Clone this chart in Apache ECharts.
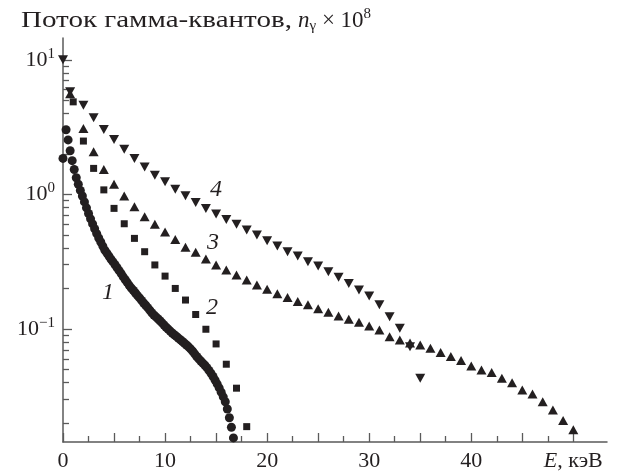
<!DOCTYPE html>
<html>
<head>
<meta charset="utf-8">
<script src="https://cdn.jsdelivr.net/npm/echarts@6/dist/echarts.min.js"></script>
<style>
  html, body { margin: 0; padding: 0; background: #fff; }
  #chart { width: 618px; height: 475px; }
</style>
</head>
<body>
<div id="chart"></div>
<script>
  // curve 1 (circles)
  var energy1 = [0, 0.3, 0.5, 0.7, 0.9, 1.1, 1.3, 1.5, 1.7, 1.9, 2.1, 2.3, 2.5, 2.7, 2.9, 3.1, 3.3, 3.5, 3.7, 3.9,
    4.1, 4.3, 4.5, 4.7, 4.9, 5.1, 5.3, 5.5, 5.7, 5.9, 6.1, 6.3, 6.5, 6.7, 6.9, 7.1, 7.3, 7.5, 7.7, 7.9,
    8.1, 8.3, 8.5, 8.7, 8.9, 9.1, 9.3, 9.5, 9.7, 9.9, 10.1, 10.3, 10.5, 10.7, 10.9, 11.1, 11.3, 11.5, 11.7, 11.9,
    12.1, 12.3, 12.5, 12.7, 12.9, 13.1, 13.3, 13.5, 13.7, 13.9, 14.1, 14.3, 14.5, 14.7, 14.9, 15.1, 15.3, 15.5, 15.7, 15.9,
    16.1, 16.3, 16.5, 16.7];
  var flux1 = [1.85, 3.02, 2.54, 2.11, 1.78, 1.53, 1.33, 1.19, 1.07, 0.973, 0.879, 0.794, 0.721, 0.658, 0.603, 0.555, 0.511, 0.474, 0.443, 0.413,
    0.385, 0.366, 0.348, 0.330, 0.315, 0.300, 0.285, 0.271, 0.258, 0.244, 0.232, 0.221, 0.210, 0.201, 0.193, 0.185, 0.177, 0.170, 0.163, 0.156,
    0.150, 0.144, 0.138, 0.132, 0.127, 0.123, 0.119, 0.115, 0.111, 0.107, 0.103, 0.0998, 0.0964, 0.0933, 0.0906, 0.0881, 0.0855, 0.0832, 0.0807, 0.0783,
    0.0760, 0.0736, 0.0711, 0.0684, 0.0653, 0.0624, 0.0600, 0.0578, 0.0557, 0.0537, 0.0516, 0.0492, 0.0468, 0.0443, 0.0417, 0.0391, 0.0365, 0.0339, 0.0313, 0.0288,
    0.0254, 0.0219, 0.0186, 0.0155];

  // curve 2 (squares)
  var energy2 = [1, 2, 3, 4, 5, 6, 7, 8, 9, 10, 11, 12, 13, 14, 15, 16, 17, 18];
  var flux2 = [4.87, 2.49, 1.56, 1.08, 0.787, 0.605, 0.471, 0.375, 0.299, 0.247, 0.200, 0.164, 0.128, 0.0995, 0.0774, 0.0547, 0.0363, 0.0188];

  // curve 3 (up triangles)
  var energy3 = [0.7, 2, 3, 4, 5, 6, 7, 8, 9, 10, 11, 12, 13, 14, 15, 16, 17, 18, 19, 20, 21, 22, 23, 24, 25,
    26, 27, 28, 29, 30, 31, 32, 33, 34, 35, 36, 37, 38, 39, 40, 41, 42, 43, 44, 45, 46, 47, 48, 49, 50];
  var flux3 = [5.6, 3.09, 2.07, 1.53, 1.19, 0.971, 0.809, 0.682, 0.599, 0.525, 0.462, 0.404, 0.371, 0.331, 0.299, 0.274, 0.252, 0.231, 0.212, 0.197, 0.183, 0.171, 0.160, 0.151, 0.141,
    0.133, 0.125, 0.118, 0.112, 0.105, 0.0983, 0.0877, 0.0829, 0.0787, 0.0761, 0.0719, 0.0667, 0.0623, 0.0582, 0.0531, 0.0496, 0.0474, 0.0431, 0.0399, 0.0352, 0.0329, 0.0288, 0.0250, 0.0209, 0.0178];

  // curve 4 (down triangles)
  var energy4 = [0, 0.7, 2, 3, 4, 5, 6, 7, 8, 9, 10, 11, 12, 13, 14, 15, 16, 17, 18, 19, 20, 21, 22, 23, 24,
    25, 26, 27, 28, 29, 30, 31, 32, 33, 34, 35];
  var flux4 = [10.0, 5.8, 4.60, 3.71, 3.04, 2.56, 2.16, 1.85, 1.60, 1.39, 1.24, 1.09, 0.976, 0.872, 0.787, 0.714, 0.652, 0.599, 0.543, 0.499, 0.453, 0.413, 0.375, 0.348, 0.316,
    0.294, 0.266, 0.242, 0.218, 0.195, 0.176, 0.151, 0.123, 0.101, 0.0739, 0.0431];

  // curve numbers
  var curveNames = ['1', '2', '3', '4'];
  var curveLabelE = [4.4, 14.6, 14.7, 15.0];
  var curveLabelFlux = [0.185, 0.143, 0.435, 1.08];

  // ticks
  var xLabelTicks = [0, 10, 20, 30, 40, 50];
  var xMajorTicks = [0, 5, 10, 15, 20, 25, 30, 35, 40, 45, 50];
  var xMinorTicks = [2.5, 7.5, 12.5, 17.5, 22.5, 27.5, 32.5, 37.5, 42.5, 47.5];
  var yDecades = [0.1, 1, 10];
  var yMinorTicks = [0.02, 0.03, 0.04, 0.05, 0.06, 0.07, 0.08, 0.09,
    0.2, 0.3, 0.4, 0.5, 0.6, 0.7, 0.8, 0.9, 2, 3, 4, 5, 6, 7, 8, 9];

  var ink = '#231f20';
  var axisGray = '#5a5a5a';
  var serif = 'Liberation Serif';

  function pts(es, fs) {
    return es.map(function (e, i) { return [e, Math.log10(fs[i])]; });
  }
  function lg(arr) { return arr.map(function (v) { return Math.log10(v); }); }

  var chart = echarts.init(document.getElementById('chart'));

  var xCommon = {
    type: 'value', min: 0, max: 53.3, position: 'bottom',
    splitLine: { show: false }
  };
  var yCommon = {
    type: 'value', min: -1.84, max: 1.162, position: 'left',
    splitLine: { show: false }
  };
  var dot = { color: ink, opacity: 1 };

  chart.setOption({
    animation: false,
    backgroundColor: '#fff',
    // chart heading; the cyrillic glyphs in the source are wider than Liberation, so stretch them
    graphic: [
      {
        type: 'text', x: 21, y: 21, scaleX: 1.21, originX: 0,
        style: {
          text: 'Поток гамма-квантов,', fill: ink,
          font: '24px "Liberation Serif"', verticalAlign: 'middle', align: 'left'
        }
      },
      {
        type: 'text', x: 298, y: 21,
        style: {
          text: '{i|n}{sub|γ}{t| × 10}{sup|8}', verticalAlign: 'middle', align: 'left',
          rich: {
            t: { fontFamily: serif, fontSize: 23, fill: ink },
            i: { fontFamily: serif, fontSize: 23, fontStyle: 'italic', fill: ink },
            sub: { fontFamily: serif, fontSize: 15, fill: ink, padding: [11, 0, 0, 0] },
            sup: { fontFamily: serif, fontSize: 15, fill: ink, padding: [0, 0, 13, 0] }
          }
        }
      }
    ],
    grid: { left: 63, right: 11, top: 38, bottom: 33, containLabel: false },
    xAxis: [
      Object.assign({}, xCommon, {
        axisLine: { show: true, onZero: false, lineStyle: { color: axisGray, width: 1.5 } },
        axisTick: { show: true, inside: true, length: 9, customValues: xMajorTicks, lineStyle: { color: axisGray, width: 1.3 } },
        axisLabel: {
          show: true, margin: 8, customValues: xLabelTicks,
          formatter: function (v) { return v === 50 ? '{i|E}{t|, кэВ}' : '{t|' + v + '}'; },
          rich: {
            t: { fontFamily: serif, fontSize: 22, color: ink },
            i: { fontFamily: serif, fontSize: 22, fontStyle: 'italic', color: ink }
          }
        }
      }),
      Object.assign({}, xCommon, {
        axisLine: { show: false, onZero: false },
        axisTick: { show: true, inside: true, length: 6, customValues: xMinorTicks, lineStyle: { color: axisGray, width: 1.3 } },
        axisLabel: { show: false }
      })
    ],
    yAxis: [
      Object.assign({}, yCommon, {
        axisLine: { show: true, onZero: false, lineStyle: { color: axisGray, width: 1.5 } },
        axisTick: { show: true, inside: true, length: 9, customValues: lg(yDecades), lineStyle: { color: axisGray, width: 1.3 } },
        axisLabel: {
          show: true, margin: 8, customValues: lg(yDecades),
          formatter: function (v) {
            var p = Math.round(v);
            return '{b|10}{s|' + (p < 0 ? '−' + (-p) : p) + '}';
          },
          rich: {
            b: { fontFamily: serif, fontSize: 22, color: ink },
            s: { fontFamily: serif, fontSize: 15, color: ink, padding: [0, 0, 12, 0] }
          }
        }
      }),
      Object.assign({}, yCommon, {
        axisLine: { show: false, onZero: false },
        axisTick: { show: true, inside: true, length: 6, customValues: lg(yMinorTicks), lineStyle: { color: axisGray, width: 1.3 } },
        axisLabel: { show: false }
      })
    ],
    series: [
      {
        type: 'scatter', name: '1', data: pts(energy1, flux1),
        symbol: 'circle', symbolSize: 9, itemStyle: dot
      },
      {
        type: 'scatter', name: '2', data: pts(energy2, flux2),
        symbol: 'rect', symbolSize: 7, itemStyle: dot
      },
      {
        type: 'scatter', name: '3', data: pts(energy3, flux3),
        symbol: 'triangle', symbolSize: [10, 9], itemStyle: dot
      },
      {
        type: 'scatter', name: '4', data: pts(energy4, flux4),
        symbol: 'triangle', symbolRotate: 180, symbolSize: [10, 9], itemStyle: dot
      },
      {
        type: 'scatter', name: 'labels', symbolSize: 0, silent: true, itemStyle: dot,
        data: curveNames.map(function (n, i) {
          return { name: n, value: [curveLabelE[i], Math.log10(curveLabelFlux[i])] };
        }),
        label: {
          show: true, position: 'inside', formatter: '{b}',
          fontFamily: serif, fontStyle: 'italic', fontSize: 24, color: ink
        }
      }
    ]
  });
</script>
</body>
</html>
